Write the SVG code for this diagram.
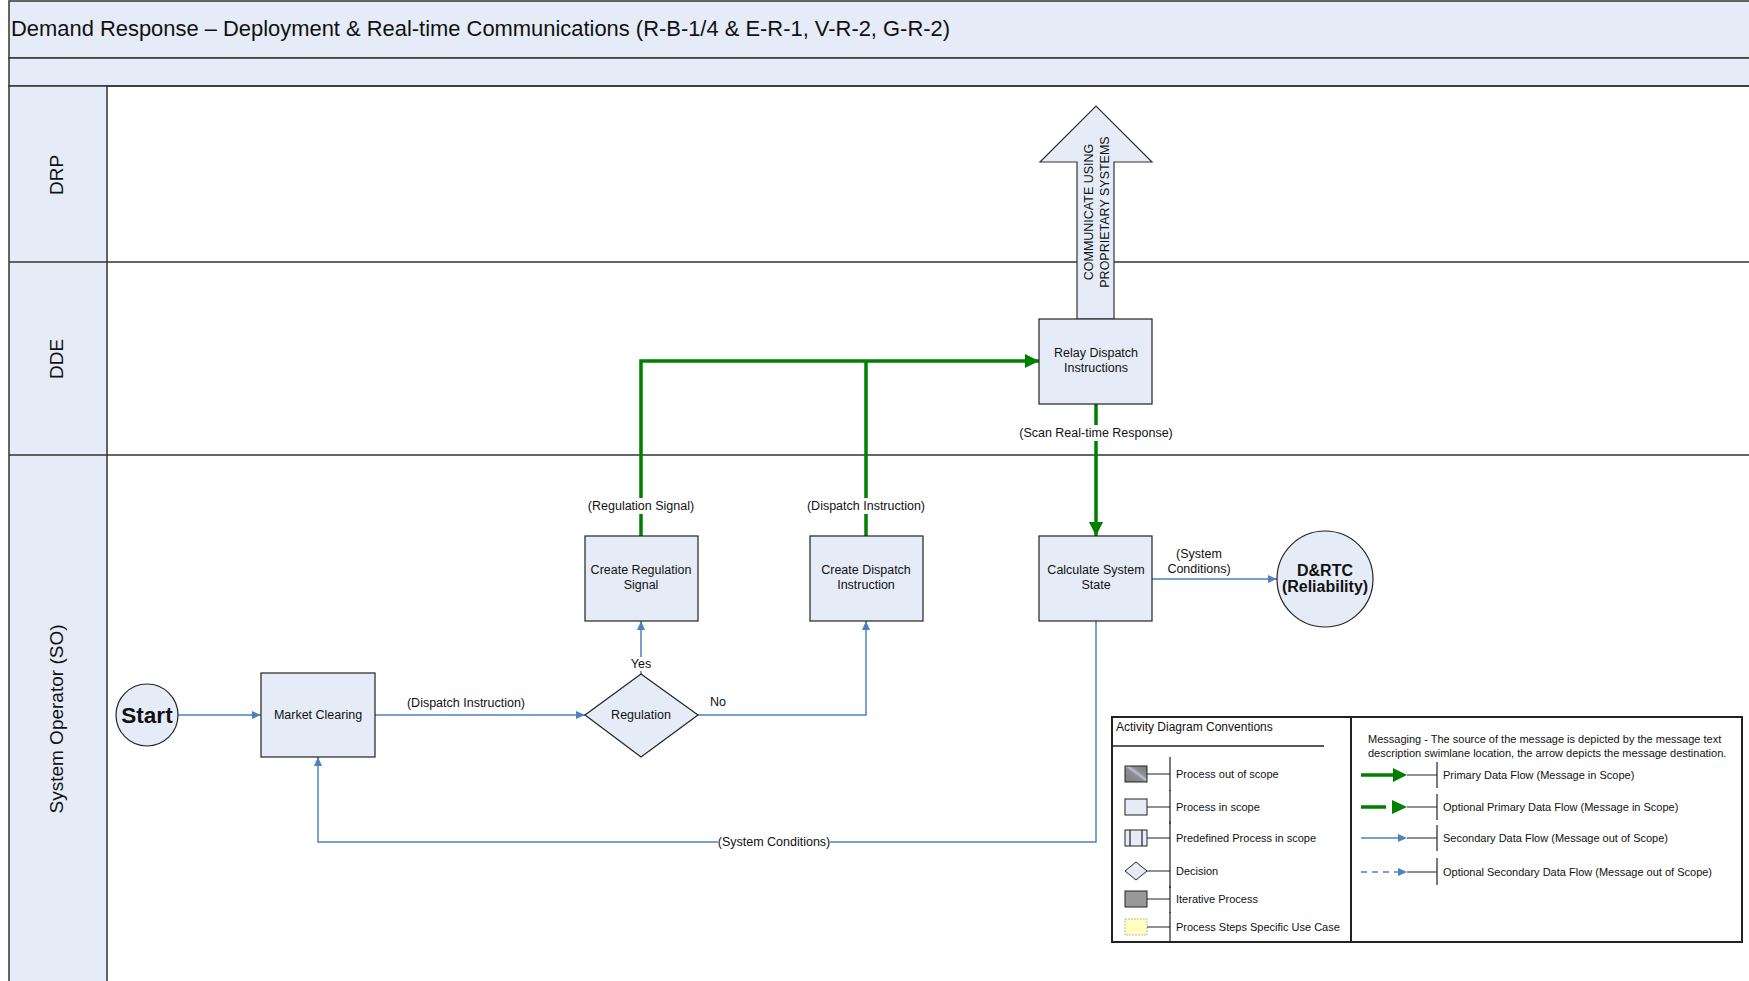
<svg xmlns="http://www.w3.org/2000/svg" width="1749" height="981" viewBox="0 0 1749 981">
<defs>
<style>
text{font-family:"Liberation Sans",Arial,sans-serif;fill:#111}
.lane{fill:#e6ecf7;stroke:#333;stroke-width:1.5}
.ln{stroke:#333;stroke-width:1.5}
.box{fill:#e6ecf7;stroke:#222;stroke-width:1.2}
.nt{font-size:12.5px;text-anchor:middle}
.lbl{font-size:12.5px;text-anchor:middle}
.g{stroke:#008000;stroke-width:3.5;fill:none}
.b{stroke:#4f81bd;stroke-width:1.5;fill:none}
.lg{font-size:11px}
.tick{stroke:#222;stroke-width:1.2;fill:none}
.wb{fill:#fff}
</style>
<marker id="ga" markerUnits="userSpaceOnUse" markerWidth="15" markerHeight="15" refX="14" refY="7" orient="auto"><path d="M0,0 L14,7 L0,14 z" fill="#008000"/></marker>
<marker id="ba" markerUnits="userSpaceOnUse" markerWidth="10" markerHeight="10" refX="9" refY="4" orient="auto"><path d="M0,0 L9,4 L0,8 z" fill="#4f81bd"/></marker>
<linearGradient id="oos" x1="0" y1="1" x2="1" y2="0">
<stop offset="0" stop-color="#7f7f7f"/><stop offset="0.45" stop-color="#8d8d8d"/><stop offset="0.55" stop-color="#b8bfd0"/><stop offset="0.65" stop-color="#8d8d8d"/><stop offset="1" stop-color="#7a7a7a"/>
</linearGradient>
</defs>
<rect x="0" y="0" width="1749" height="981" fill="#fff"/>

<g id="frame">
<rect class="lane" x="9" y="1" width="1745" height="57"/>
<rect class="lane" x="9" y="58" width="1745" height="28"/>
<rect class="lane" x="9" y="86" width="98" height="900"/>
<line class="ln" x1="9" y1="262" x2="1749" y2="262"/>
<line class="ln" x1="9" y1="455" x2="1749" y2="455"/>
<line class="ln" x1="107" y1="86" x2="1749" y2="86"/>
<text x="11" y="36" font-size="22" textLength="939" lengthAdjust="spacingAndGlyphs">Demand Response – Deployment &amp; Real-time Communications (R-B-1/4 &amp; E-R-1, V-R-2, G-R-2)</text>
</g>

<g id="lane-DRP"><text transform="translate(63,175) rotate(-90)" font-size="19" text-anchor="middle">DRP</text></g>
<g id="lane-DDE"><text transform="translate(63,359) rotate(-90)" font-size="19" text-anchor="middle">DDE</text></g>
<g id="lane-SO"><text transform="translate(63,719) rotate(-90)" font-size="19" text-anchor="middle">System Operator (SO)</text></g>

<g id="connectors">
<polyline class="g" points="641,536 641,361 1039,361" marker-end="url(#ga)"/>
<line class="g" x1="866" y1="536" x2="866" y2="361"/>
<line class="g" x1="1096" y1="404" x2="1096" y2="536" marker-end="url(#ga)"/>
<line class="b" x1="178" y1="715" x2="261" y2="715" marker-end="url(#ba)"/>
<line class="b" x1="375" y1="715" x2="585" y2="715" marker-end="url(#ba)"/>
<line class="b" x1="641" y1="674" x2="641" y2="621" marker-end="url(#ba)"/>
<polyline class="b" points="698,715 866,715 866,621" marker-end="url(#ba)"/>
<line class="b" x1="1152" y1="579" x2="1277" y2="579" marker-end="url(#ba)"/>
<polyline class="b" points="1096,621 1096,842 318,842 318,757" marker-end="url(#ba)"/>
<rect class="wb" x="589" y="498" width="104" height="16"/>
<text class="lbl" x="641" y="510">(Regulation Signal)</text>
<rect class="wb" x="806" y="498" width="120" height="16"/>
<text class="lbl" x="866" y="510">(Dispatch Instruction)</text>
<rect class="wb" x="1019" y="425" width="154" height="16"/>
<text class="lbl" x="1096" y="437">(Scan Real-time Response)</text>
<rect class="wb" x="718" y="834" width="112" height="16"/>
<text class="lbl" x="774" y="846">(System Conditions)</text>
<text class="lbl" x="466" y="707">(Dispatch Instruction)</text>
<rect class="wb" x="629" y="657" width="24" height="14"/>
<text class="lbl" x="641" y="668">Yes</text>
<text class="lbl" x="718" y="706">No</text>
<text class="lbl" x="1199" y="558">(System</text>
<text class="lbl" x="1199" y="573">Conditions)</text>
</g>

<g id="comm-arrow">
<polygon points="1077,319 1077,162 1040,162 1096,106 1152,162 1114,162 1114,319" fill="#e6ecf7" stroke="#333" stroke-width="1.2"/>
<text transform="translate(1096,212) rotate(-90)" font-size="12.5" text-anchor="middle"><tspan x="0" y="-3.5">COMMUNICATE USING</tspan><tspan x="0" y="13">PROPRIETARY SYSTEMS</tspan></text>
</g>

<g id="start">
<circle cx="147" cy="715" r="31" class="box"/>
<text x="147" y="723" font-size="22.5" font-weight="bold" text-anchor="middle">Start</text>
</g>
<g id="market-clearing">
<rect class="box" x="261" y="673" width="114" height="84"/>
<text class="nt" x="318" y="719">Market Clearing</text>
</g>
<g id="regulation">
<polygon class="box" points="585,715 641,674 698,715 641,757"/>
<text class="nt" x="641" y="719">Regulation</text>
</g>
<g id="create-regulation-signal">
<rect class="box" x="585" y="536" width="113" height="85"/>
<text class="nt" x="641" y="574">Create Regulation</text>
<text class="nt" x="641" y="589">Signal</text>
</g>
<g id="create-dispatch-instruction">
<rect class="box" x="810" y="536" width="113" height="85"/>
<text class="nt" x="866" y="574">Create Dispatch</text>
<text class="nt" x="866" y="589">Instruction</text>
</g>
<g id="calculate-system-state">
<rect class="box" x="1039" y="536" width="113" height="85"/>
<text class="nt" x="1096" y="574">Calculate System</text>
<text class="nt" x="1096" y="589">State</text>
</g>
<g id="relay-dispatch-instructions">
<rect class="box" x="1039" y="319" width="113" height="85"/>
<text class="nt" x="1096" y="357">Relay Dispatch</text>
<text class="nt" x="1096" y="372">Instructions</text>
</g>
<g id="drtc">
<circle class="box" cx="1325" cy="579" r="48"/>
<text x="1325" y="576" font-size="16" font-weight="bold" text-anchor="middle">D&amp;RTC</text>
<text x="1325" y="592" font-size="16" font-weight="bold" text-anchor="middle">(Reliability)</text>
</g>

<g id="legend">
<rect x="1112" y="717" width="630" height="225" fill="#fff" stroke="#222" stroke-width="2"/>
<line x1="1351" y1="717" x2="1351" y2="942" stroke="#222" stroke-width="2"/>
<text x="1116" y="731" font-size="12">Activity Diagram Conventions</text>
<line x1="1112" y1="746" x2="1324" y2="746" stroke="#222" stroke-width="1.5"/>
<rect x="1125" y="766" width="22" height="16" fill="url(#oos)" stroke="#222"/>
<path class="tick" d="M1147,774 H1170 M1170,757 V791"/>
<text class="lg" x="1176" y="778">Process out of scope</text>
<rect x="1125" y="799" width="22" height="16" fill="#e6ecf7" stroke="#222"/>
<path class="tick" d="M1147,807 H1170 M1170,790 V824"/>
<text class="lg" x="1176" y="811">Process in scope</text>
<rect x="1125" y="830" width="22" height="16" fill="#e6ecf7" stroke="#222"/>
<path class="tick" d="M1130,830 V846 M1142,830 V846"/>
<path class="tick" d="M1147,838 H1170 M1170,821 V855"/>
<text class="lg" x="1176" y="842">Predefined Process in scope</text>
<polygon points="1125,871 1136,862 1147,871 1136,880" fill="#e6ecf7" stroke="#222"/>
<path class="tick" d="M1147,871 H1170 M1170,855 V888"/>
<text class="lg" x="1176" y="875">Decision</text>
<rect x="1125" y="891" width="22" height="16" fill="#999" stroke="#222"/>
<path class="tick" d="M1147,899 H1170 M1170,886 V913"/>
<text class="lg" x="1176" y="903">Iterative Process</text>
<rect x="1125" y="919" width="22" height="16" fill="#ffffc0" stroke="#bbb" stroke-dasharray="2,1"/>
<path class="tick" d="M1147,927 H1170 M1170,912 V942"/>
<text class="lg" x="1176" y="931">Process Steps Specific Use Case</text>
<text class="lg" x="1368" y="743">Messaging - The source of the message is depicted by the message text</text>
<text class="lg" x="1368" y="757">description swimlane location, the arrow depicts the message destination.</text>
<line x1="1361" y1="775" x2="1396" y2="775" stroke="#008000" stroke-width="3.5"/>
<path d="M1393,768 L1407,775 L1393,782 z" fill="#008000"/>
<path class="tick" d="M1407,775 H1437 M1437,762 V788"/>
<text class="lg" x="1443" y="779">Primary Data Flow (Message in Scope)</text>
<line x1="1361" y1="807" x2="1386" y2="807" stroke="#008000" stroke-width="3.5"/>
<path d="M1392,800 L1407,807 L1392,814 z" fill="#008000"/>
<path class="tick" d="M1407,807 H1437 M1437,794 V820"/>
<text class="lg" x="1443" y="811">Optional Primary Data Flow (Message in Scope)</text>
<line x1="1361" y1="838" x2="1400" y2="838" stroke="#4f81bd" stroke-width="1.5"/>
<path d="M1398,834 L1407,838 L1398,842 z" fill="#4f81bd"/>
<path class="tick" d="M1407,838 H1437 M1437,825 V851"/>
<text class="lg" x="1443" y="842">Secondary Data Flow (Message out of Scope)</text>
<line x1="1361" y1="872" x2="1400" y2="872" stroke="#4f81bd" stroke-width="1.5" stroke-dasharray="6,5"/>
<path d="M1398,868 L1407,872 L1398,876 z" fill="#4f81bd"/>
<path class="tick" d="M1407,872 H1437 M1437,858 V885"/>
<text class="lg" x="1443" y="876">Optional Secondary Data Flow (Message out of Scope)</text>
</g>
</svg>
